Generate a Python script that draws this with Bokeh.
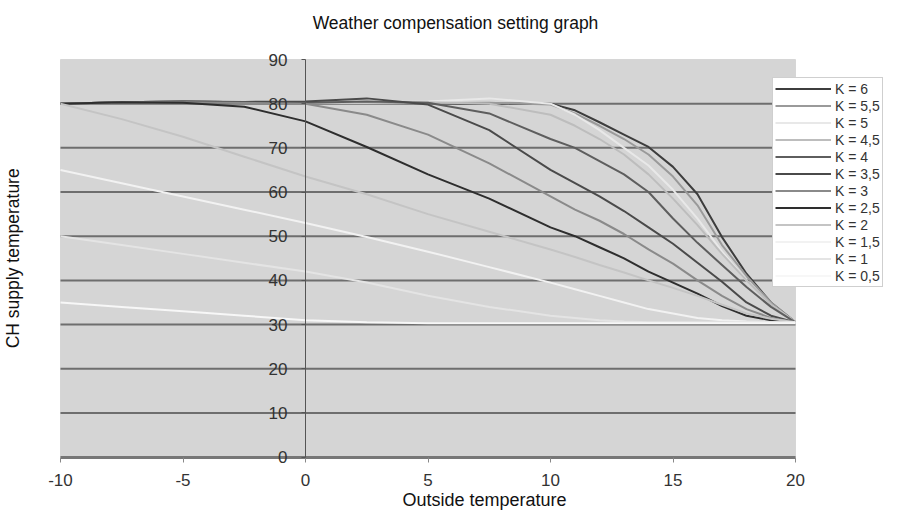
import math
from bokeh.plotting import figure
from bokeh.models import (LinearAxis, FixedTicker, Range1d, Legend, LegendItem,
                          BoxAnnotation, Label)
from bokeh.embed import file_html
from bokeh.resources import INLINE

# Outside temperature (x) sample points
outside_temp = [-10, -7.5, -5, -2.5, 0, 2.5, 5, 7.5, 10, 11, 12, 13, 14, 15, 16, 17, 18, 19, 20]

k_6   = [80, 80.3, 80.5, 80.3, 80.2, 80.2, 80.1, 80.0, 80.0, 78.5, 75.8, 73.0, 70.2, 65.7, 59.5, 49.8, 41.5, 35.0, 30.5]
k_5_5 = [80, 80.3, 80.5, 80.3, 80.2, 80.2, 80.1, 80.2, 79.8, 77.8, 75.0, 72.0, 68.5, 63.5, 57.0, 48.0, 41.0, 35.0, 30.5]
k_5   = [80, 80.3, 80.5, 80.3, 80.2, 80.2, 80.5, 81.2, 80.0, 77.5, 74.0, 70.0, 66.0, 60.5, 54.0, 46.5, 40.0, 34.5, 30.5]
k_4_5 = [80, 80.3, 80.5, 80.3, 80.2, 80.3, 80.3, 80.0, 77.5, 75.0, 72.0, 68.5, 64.0, 58.5, 52.5, 46.0, 40.0, 34.5, 30.5]
k_4   = [80, 80.3, 80.5, 80.3, 80.2, 80.5, 80.2, 77.8, 72.0, 70.0, 67.0, 64.0, 60.0, 54.0, 48.5, 43.5, 38.5, 34.0, 30.5]
k_3_5 = [80, 80.3, 80.5, 80.4, 80.5, 81.2, 79.8, 74.0, 65.0, 62.0, 59.0, 55.7, 52.0, 48.3, 44.0, 39.7, 35.0, 32.0, 30.5]
k_3   = [80, 80.3, 80.3, 80.2, 80.0, 77.5, 73.0, 66.5, 59.0, 56.0, 53.5, 50.5, 47.0, 43.8, 40.0, 36.5, 33.5, 31.5, 30.5]
k_2_5 = [80, 80.3, 80.2, 79.3, 76.0, 70.2, 64.0, 58.5, 52.0, 50.0, 47.5, 45.0, 42.0, 39.5, 37.0, 34.2, 32.0, 31.0, 30.5]
k_2   = [80, 76.5, 72.5, 68.0, 63.5, 59.5, 55.0, 51.0, 47.0, 45.3, 43.5, 41.8, 40.0, 38.3, 36.5, 34.5, 32.5, 31.3, 30.5]
k_1_5 = [65, 62.0, 59.0, 56.0, 53.0, 49.8, 46.5, 43.0, 39.5, 38.0, 36.5, 35.0, 33.5, 32.5, 31.5, 31.0, 30.7, 30.5, 30.5]
k_1   = [50, 48.0, 46.0, 44.0, 42.0, 39.5, 36.5, 34.0, 32.0, 31.5, 31.0, 30.7, 30.5, 30.5, 30.5, 30.5, 30.5, 30.5, 30.5]
k_0_5 = [35, 34.0, 33.0, 32.0, 31.0, 30.5, 30.3, 30.3, 30.3, 30.3, 30.3, 30.3, 30.3, 30.3, 30.3, 30.3, 30.3, 30.3, 30.3]

series_labels = ["K = 6", "K = 5,5", "K = 5", "K = 4,5", "K = 4", "K = 3,5",
                 "K = 3", "K = 2,5", "K = 2", "K = 1,5", "K = 1", "K = 0,5"]
series_values = [k_6, k_5_5, k_5, k_4_5, k_4, k_3_5, k_3, k_2_5, k_2, k_1_5, k_1, k_0_5]
series_colors = ["#3d3d3d", "#9a9a9a", "#e8e8e8", "#bdbdbd", "#5e5e5e", "#4a4a4a",
                 "#8a8a8a", "#2e2e2e", "#c4c4c4", "#f2f2f2", "#e4e4e4", "#f7f7f7"]

x_ticks = [-10, -5, 0, 5, 10, 15, 20]
y_ticks = [0, 10, 20, 30, 40, 50, 60, 70, 80, 90]
grid_ticks = [10, 20, 30, 40, 50, 60, 70, 80]

FONT = "Liberation Sans"

# ---- layout (pixels) ----
W, H = 889, 510
PLOT_L, PLOT_R = 60, 795        # pixel columns of x = -10 and x = 20
PLOT_T, PLOT_B = 59, 456.6      # pixel rows of y = 90 and y = 0
x_lo, x_hi = x_ticks[0], x_ticks[-1]
y_lo, y_hi = y_ticks[0], y_ticks[-1]
xs = (PLOT_R - PLOT_L) / (x_hi - x_lo)
ys = (PLOT_B - PLOT_T) / (y_hi - y_lo)
x_range = Range1d(x_lo - PLOT_L / xs, x_hi + (W - PLOT_R) / xs)
y_range = Range1d(y_lo - (H - PLOT_B) / ys, y_hi + PLOT_T / ys)

p = figure(width=W, height=H, x_range=x_range, y_range=y_range,
           output_backend="svg", toolbar_location=None,
           x_axis_location=None, y_axis_location=None,
           min_border=0, min_border_left=0, min_border_right=0,
           min_border_top=0, min_border_bottom=0)
p.title.visible = False
p.outline_line_color = None
p.background_fill_color = "white"
p.border_fill_color = "white"
p.xgrid.visible = False
p.ygrid.visible = False

# plot area
p.add_layout(BoxAnnotation(left=x_lo, right=x_hi, bottom=y_lo, top=y_hi,
                           fill_color="#d5d5d5", fill_alpha=1.0,
                           line_color="#a8a8a8", line_width=1, level="underlay"))

# horizontal gridlines across the plot area
p.segment(x0=[x_lo] * len(grid_ticks), x1=[x_hi] * len(grid_ticks),
          y0=grid_ticks, y1=grid_ticks, line_color="#6e6e6e", line_width=2)

items = []
for lab, vals, col in zip(series_labels, series_values, series_colors):
    r = p.line(outside_temp, vals, line_color=col, line_width=2)
    items.append(LegendItem(label=lab, renderers=[r]))

# x axis at y = 0
x_axis = LinearAxis(fixed_location=0, bounds=(x_lo, x_hi), ticker=FixedTicker(ticks=x_ticks),
                    major_label_overrides={t: str(t) for t in x_ticks},
                    axis_line_color="#777777", axis_line_width=3,
                    major_tick_out=5, major_tick_in=0, major_tick_line_color="#888888",
                    minor_tick_line_color=None, major_label_standoff=12,
                    major_label_text_font=FONT, major_label_text_font_size="17px",
                    major_label_text_color="#333333")
p.add_layout(x_axis, "below")

# y axis at x = 0
y_axis = LinearAxis(fixed_location=0, bounds=(y_lo, y_hi), ticker=FixedTicker(ticks=y_ticks),
                    major_label_overrides={t: str(t) for t in y_ticks},
                    axis_line_color="#555555", axis_line_width=1,
                    major_tick_out=4, major_tick_in=0, major_tick_line_color="#555555",
                    minor_tick_line_color=None, major_label_standoff=14,
                    major_label_text_font=FONT, major_label_text_font_size="17px",
                    major_label_text_color="#333333")
p.add_layout(y_axis, "left")

# texts
p.add_layout(Label(x=455, y=H - 22, x_units="screen", y_units="screen",
                   text="Weather compensation setting graph", text_align="center",
                   text_baseline="middle", text_font=FONT, text_font_size="17.5px",
                   text_color="#111111"))
p.add_layout(Label(x=484, y=1, x_units="screen", y_units="screen",
                   text="Outside temperature", text_align="center",
                   text_baseline="bottom", text_font=FONT, text_font_size="18px",
                   text_color="#111111"))
p.add_layout(Label(x=12, y=H - (PLOT_T + PLOT_B) / 2, x_units="screen", y_units="screen",
                   text="CH supply temperature", text_align="center", angle=math.pi / 2,
                   text_baseline="middle", text_font=FONT, text_font_size="17.5px",
                   text_color="#111111"))

legend = Legend(items=items, location=(772, H - 287), orientation="vertical")
legend.background_fill_color = "white"
legend.background_fill_alpha = 1.0
legend.border_line_color = "#a0a0a0"
legend.border_line_width = 1
legend.label_text_font = FONT
legend.label_text_font_size = "14px"
legend.label_text_color = "#333333"
legend.label_height = 17
legend.glyph_height = 17
legend.glyph_width = 56
legend.label_standoff = 4
legend.spacing = 0
legend.padding = 2
legend.margin = 0
p.add_layout(legend, "center")

open("out.html", "w").write(file_html(p, INLINE))
